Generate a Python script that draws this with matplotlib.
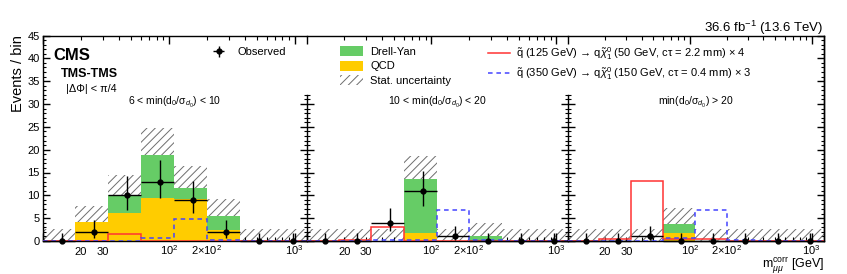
import numpy as np
import matplotlib
matplotlib.use('Agg')
import matplotlib.pyplot as plt
from matplotlib.ticker import FixedLocator, MultipleLocator, FuncFormatter, LogLocator
from matplotlib.patches import Patch
from matplotlib.lines import Line2D

plt.rcParams['font.family'] = ['Liberation Sans', 'DejaVu Sans']
plt.rcParams['mathtext.fontset'] = 'custom'
plt.rcParams['mathtext.rm'] = 'Liberation Sans'
plt.rcParams['mathtext.it'] = 'Liberation Sans:italic'
plt.rcParams['mathtext.bf'] = 'Liberation Sans:bold'
plt.rcParams['mathtext.sf'] = 'Liberation Sans'
plt.rcParams['hatch.linewidth'] = 0.7
plt.rcParams['axes.linewidth'] = 1.0

# ---------------- data ----------------
mass_edges = [10, 18, 33, 60, 110, 200, 370, 680, 1250]
region_labels = [r'6 < min(d$_0$/σ$_{d_0}$) < 10',
                 r'10 < min(d$_0$/σ$_{d_0}$) < 20',
                 r'min(d$_0$/σ$_{d_0}$) > 20']

qcd_r1 = [0, 4.2, 6.06, 9.5, 9.1, 2.4, 0, 0]
dy_r1 = [0, 0, 4.0, 9.3, 2.6, 3.1, 0, 0]
stat_r1 = [2.56, 3.5, 4.4, 5.9, 4.8, 3.8, 2.56, 2.56]
obs_r1 = [0, 2, 10, 13, 9, 2, 0, 0]
obs_lo_r1 = [0, 1.29, 3.11, 3.58, 2.94, 1.29, 0, 0]
obs_hi_r1 = [1.84, 2.64, 4.26, 4.71, 4.11, 2.64, 1.84, 1.84]
sig125_r1 = [0, 0, 1.46, 0, 0, 0, 0, 0]
sig350_r1 = [0, 0, 0, 0.6, 4.75, 0.3, 0, 0]

qcd_r2 = [0, 0, 0, 1.75, 0, 0, 0, 0]
dy_r2 = [0, 0, 0, 11.9, 0, 1.1, 0, 0]
stat_r2 = [2.56, 2.56, 2.56, 4.95, 2.56, 2.8, 2.56, 2.56]
obs_r2 = [0, 0, 4, 11, 1, 0, 0, 0]
obs_lo_r2 = [0, 0, 1.91, 3.27, 0.83, 0, 0, 0]
obs_hi_r2 = [1.84, 1.84, 3.16, 4.41, 2.30, 1.84, 1.84, 1.84]
sig125_r2 = [0, 0.25, 3.1, 0, 0, 0, 0, 0]
sig350_r2 = [0, 0, 0.15, 0.2, 6.7, 0.2, 0, 0]

qcd_r3 = [0, 0, 0, 1.8, 0, 0, 0, 0]
dy_r3 = [0, 0, 0, 1.85, 0, 0, 0, 0]
stat_r3 = [2.56, 2.56, 2.56, 3.5, 2.56, 2.56, 2.56, 2.56]
obs_r3 = [0, 0, 1, 0, 0, 0, 0, 0]
obs_lo_r3 = [0, 0, 0.83, 0, 0, 0, 0, 0]
obs_hi_r3 = [1.84, 1.84, 2.30, 1.84, 1.84, 1.84, 1.84, 1.84]
sig125_r3 = [0, 0.5, 13.2, 0.35, 0.35, 0, 0, 0]
sig350_r3 = [0, 0, 0, 0.6, 6.8, 0.2, 0, 0]

xtick_values = [20, 30, 100, 200, 1000]
xtick_labels = ['20', '30', r'$10^{2}$', r'$2{\times}10^{2}$', r'$10^{3}$']

legend_labels = ['Observed', 'Drell-Yan', 'QCD', 'Stat. uncertainty',
                 r'$\tilde{\rm q}$ (125 GeV) → q$\tilde{\chi}^{0}_{1}$ (50 GeV, cτ = 2.2 mm) × 4',
                 r'$\tilde{\rm q}$ (350 GeV) → q$\tilde{\chi}^{0}_{1}$ (150 GeV, cτ = 0.4 mm) × 3']

regions = [
    (qcd_r1, dy_r1, stat_r1, obs_r1, obs_lo_r1, obs_hi_r1, sig125_r1, sig350_r1),
    (qcd_r2, dy_r2, stat_r2, obs_r2, obs_lo_r2, obs_hi_r2, sig125_r2, sig350_r2),
    (qcd_r3, dy_r3, stat_r3, obs_r3, obs_lo_r3, obs_hi_r3, sig125_r3, sig350_r3),
]

# ---------------- style ----------------
C_DY = '#66CC66'
C_QCD = '#FFCC00'
C_HATCH = '#6E6E6E'
C_RED = '#FF3333'
C_BLUE = '#4444FF'

W, H = 847, 274
fig = plt.figure(figsize=(W / 100, H / 100), dpi=100)

def fx(x):
    return x / W

def fy(y):
    return 1 - y / H

lefts = [43.3, 306.7, 568.3]
widths = [263.4, 261.6, 255.2]
top_px, bot_px = 35.5, 241.0
ax_h = bot_px - top_px
xlab_baseline_px = 255.0

label_map = dict(zip(xtick_values, xtick_labels))

def tick_fmt(v, pos):
    return label_map.get(int(round(v)), '') if abs(v - round(v)) < 1e-6 else ''

edges = np.array(mass_edges, dtype=float)
centers = 0.5 * (edges[:-1] + edges[1:])

axes = []
obs_handle = None
for i, (l, w) in enumerate(zip(lefts, widths)):
    ax = fig.add_axes([fx(l), fy(bot_px), w / W, ax_h / H])
    axes.append(ax)
    qcd, dy, stat, obs, lo, hi, s125, s350 = [np.array(a, dtype=float) for a in regions[i]]
    tot = qcd + dy
    ax.set_xscale('log')
    ax.set_xlim(edges[0], edges[-1])
    ax.set_ylim(0, 45)

    ax.stairs(tot + stat, edges, baseline=np.maximum(tot - stat, 0), fill=True,
              facecolor='none', edgecolor=C_HATCH, hatch='////', linewidth=0, zorder=1)
    ax.stairs(qcd, edges, fill=True, facecolor=C_QCD, linewidth=0, zorder=2)
    ax.stairs(tot, edges, baseline=qcd, fill=True, facecolor=C_DY, linewidth=0, zorder=2)
    ax.stairs(s125, edges, color=C_RED, linewidth=1.1, zorder=3)
    ax.stairs(s350, edges, color=C_BLUE, linewidth=1.1, linestyle=(0, (3, 2.5)), zorder=3)
    eb = ax.errorbar(centers, obs, yerr=[lo, hi],
                     xerr=[centers - edges[:-1], edges[1:] - centers],
                     fmt='o', color='black', ms=3.5, lw=1.0, capsize=0, zorder=5,
                     clip_on=False)
    if obs_handle is None:
        obs_handle = eb

    ax.text(0.5, 1 - (102.5 - top_px) / ax_h, region_labels[i], transform=ax.transAxes,
            ha='center', va='center', fontsize=7.5)

    # x ticks
    ax.xaxis.set_major_locator(LogLocator(base=10, numticks=10))
    ax.xaxis.set_minor_locator(LogLocator(base=10, subs=np.arange(2, 10), numticks=20))
    ax.xaxis.set_major_formatter(FuncFormatter(tick_fmt))
    ax.xaxis.set_minor_formatter(FuncFormatter(tick_fmt))
    ax.tick_params(axis='x', which='both', direction='in', top=True, bottom=True,
                   labelsize=8, pad=(xlab_baseline_px - bot_px) * 0.72)
    ax.tick_params(axis='x', which='major', length=6, width=1.0)
    ax.tick_params(axis='x', which='minor', length=3, width=0.8)

    ax.spines['right'].set_visible(False)
    if i == 0:
        ax.yaxis.set_major_locator(MultipleLocator(5))
        ax.yaxis.set_minor_locator(MultipleLocator(1))
        ax.tick_params(axis='y', which='both', direction='in', left=True, right=False,
                       labelsize=8, pad=2.5)
        ax.tick_params(axis='y', which='major', length=5, width=1.0)
        ax.tick_params(axis='y', which='minor', length=2.5, width=0.8)
    else:
        ax.spines['left'].set_bounds(0, 32)
        ax.yaxis.set_major_locator(FixedLocator(list(range(0, 31, 5))))
        ax.yaxis.set_minor_locator(FixedLocator(list(range(0, 33))))
        ax.tick_params(axis='y', which='both', direction='inout', left=True, right=False,
                       labelleft=False)
        ax.tick_params(axis='y', which='major', length=9.5, width=1.0)
        ax.tick_params(axis='y', which='minor', length=5, width=0.8)

ax3 = axes[2]
ax3.spines['right'].set_visible(True)
sec = ax3.secondary_yaxis('right')
sec.yaxis.set_major_locator(MultipleLocator(5))
sec.yaxis.set_minor_locator(MultipleLocator(1))
sec.tick_params(axis='y', which='both', direction='in', labelright=False)
sec.tick_params(axis='y', which='major', length=5, width=1.0)
sec.tick_params(axis='y', which='minor', length=2.5, width=0.8)

ax1 = axes[0]
ax1.set_ylabel('Events / bin', fontsize=10.5, loc='top')
ax1.yaxis.set_label_coords((25 - 43.3) / widths[0], 1.0)

ax3.set_xlabel(r'm$^{\rm corr}_{\mu\mu}$ [GeV]', fontsize=9, loc='right')
ax3.xaxis.set_label_coords((825 - lefts[2]) / widths[2], (bot_px - 267.6) / ax_h)
ax3.xaxis.label.set_verticalalignment('baseline')

# header texts
fig.text(fx(53), fy(60), 'CMS', fontsize=12, fontweight='bold', va='baseline')
fig.text(fx(61), fy(77), 'TMS-TMS', fontsize=9, fontweight='bold', va='baseline')
fig.text(fx(66), fy(89), '|ΔΦ| < π/4', fontsize=7.8, va='center')
fig.text(fx(823.5), fy(32.3), r'36.6 fb$^{-1}$ (13.6 TeV)', fontsize=9.5, ha='right', va='baseline')

# legends
fs = 8
leg1 = fig.legend([obs_handle], [legend_labels[0]], loc='center left',
                  bbox_to_anchor=(fx(207), fy(52)), frameon=False, fontsize=fs,
                  borderpad=0, borderaxespad=0, handlelength=2.1, handletextpad=0.6)
h_dy = Patch(facecolor=C_DY, edgecolor='none')
h_qcd = Patch(facecolor=C_QCD, edgecolor='none')
h_stat = Patch(facecolor='none', edgecolor=C_HATCH, hatch='////', linewidth=0)
leg2 = fig.legend([h_dy, h_qcd, h_stat], legend_labels[1:4], loc='upper left',
                  bbox_to_anchor=(fx(340), fy(46)), frameon=False, fontsize=fs,
                  borderpad=0, borderaxespad=0, handlelength=2.1, handleheight=1.0,
                  handletextpad=0.6, labelspacing=0.35)
h_r = Line2D([], [], color=C_RED, lw=1.1)
h_b = Line2D([], [], color=C_BLUE, lw=1.1, linestyle=(0, (3, 2.5)))
leg3 = fig.legend([h_r, h_b], legend_labels[4:6], loc='upper left',
                  bbox_to_anchor=(fx(488), fy(45)), frameon=False, fontsize=fs,
                  borderpad=0, borderaxespad=0, handlelength=2.0,
                  handletextpad=0.5, labelspacing=0.3)

# align x tick label baselines (so superscripts rise above, as in the reference)
fig.canvas.draw()
for ax in axes:
    for t in ax.xaxis.get_major_ticks() + ax.xaxis.get_minor_ticks():
        t.label1.set_verticalalignment('baseline')

fig.savefig('out.png', dpi=100)
